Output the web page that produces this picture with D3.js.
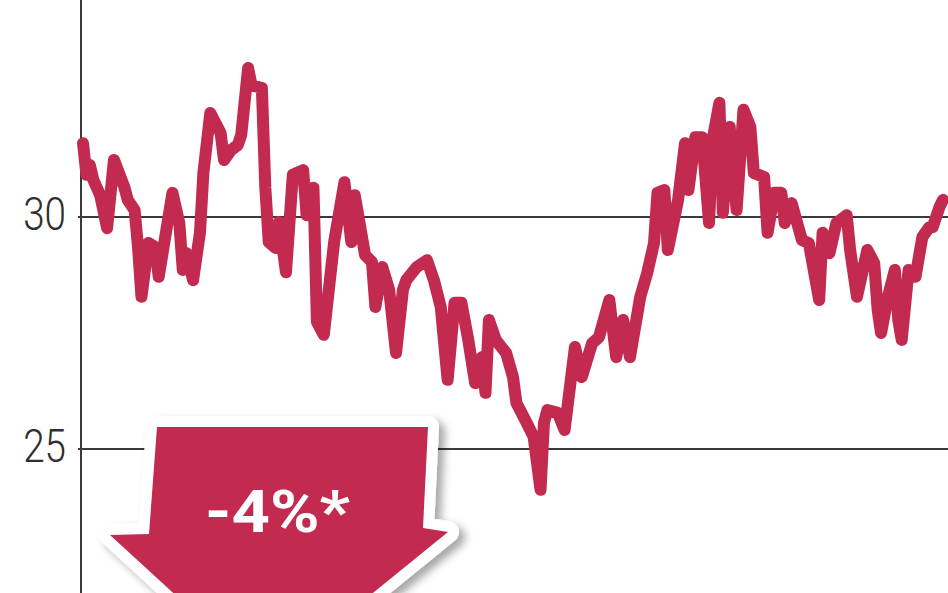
<!DOCTYPE html>
<html>
<head>
<meta charset="utf-8">
<script src="https://cdn.jsdelivr.net/npm/d3@7/dist/d3.min.js"></script>
<style>
  html, body { margin: 0; padding: 0; background: #fff; overflow: hidden; }
</style>
</head>
<body>
<div id="chart"></div>
<script>
// trading session index (roughly one year) and closing price
const sessions = [0,1,2,3,5,7,9,12,13,15,16,17,19,21,22,26,28,29,30,32,34,35,37,40,41,43,45,46,48,49,
  52,53,54,56,57,59,61,64,65,67,68,70,73,76,78,79,82,84,85,87,89,91,93,94,97,100,102,104,106,108,
  110,112,114,116,117,118,120,123,125,126,129,131,133,134,135,138,140,143,145,148,150,153,155,157,159,162,164,166,167,169,
  170,173,175,176,178,180,182,183,185,186,188,190,192,194,195,198,199,201,203,204,206,209,211,214,215,217,219,222,223,225,
  228,230,231,232,234,236,237,238,240,242,244,246,247,249,250];
const prices = [31.59,30.91,31.12,30.80,30.47,29.76,31.23,30.65,30.37,30.15,
  29.35,28.28,29.44,29.35,28.71,30.52,29.87,28.86,29.22,28.64,
  29.66,30.95,32.24,31.81,31.23,31.44,31.55,31.77,33.21,32.84,
  32.78,30.63,29.46,29.33,29.89,28.81,30.91,31.01,30.04,30.63,
  27.74,27.46,29.46,30.75,29.46,30.47,29.18,29.03,28.06,28.92,
  28.43,27.07,28.43,28.64,28.92,29.07,28.64,28.06,26.49,28.15,
  28.15,27.35,26.42,26.98,26.21,27.78,27.35,27.07,26.55,25.99,
  25.56,25.26,24.12,25.56,25.84,25.78,25.41,27.20,26.55,27.28,
  27.41,28.21,26.98,27.78,26.98,28.28,28.79,29.44,30.52,30.58,
  29.29,30.37,31.59,30.58,31.72,31.72,29.87,31.66,32.46,30.09,
  31.94,30.15,32.31,31.94,30.95,30.86,29.66,30.52,30.52,29.87,
  30.30,29.50,29.44,28.21,29.66,29.22,29.87,30.04,29.29,28.28,
  29.29,29.01,28.00,27.50,28.28,28.86,27.78,27.35,28.86,28.71,
  29.57,29.78,29.78,30.22,30.37];
const yTicks = [25, 30, 35];
const changeLabel = '-4%*';

const width = 948, height = 593;
const lineColor = '#c22a50';

const svg = d3.select('#chart').append('svg')
    .attr('width', width)
    .attr('height', height)
    .style('display', 'block');

const data = sessions.map((s, i) => ({ s, v: prices[i] }));

// scales
const x = d3.scaleLinear().domain([0, 250]).range([83, 943]);
const y = d3.scaleLinear().domain([25, 30]).range([449, 217]);
const axisX = 81;

// gridlines
svg.append('g')
    .selectAll('line')
    .data(yTicks)
    .join('line')
    .attr('x1', axisX - 3).attr('x2', width)
    .attr('y1', d => y(d)).attr('y2', d => y(d))
    .attr('stroke', '#3a3a3a')
    .attr('stroke-width', 2);

// tick labels (35 sits at the top edge, cut off like the original)
svg.append('g')
    .selectAll('text')
    .data(yTicks)
    .join('text')
    .attr('transform', d => `translate(66,${y(d) + 13}) scale(0.84,1)`)
    .attr('text-anchor', 'end')
    .attr('font-family', 'Roboto, "DejaVu Sans", sans-serif')
    .attr('font-weight', 300)
    .attr('font-size', 46)
    .attr('fill', '#2e2e2e')
    .text(d => d);

// vertical axis
svg.append('line')
    .attr('x1', axisX).attr('x2', axisX)
    .attr('y1', 0).attr('y2', height)
    .attr('stroke', '#3a3a3a')
    .attr('stroke-width', 2);

// price line
const line = d3.line()
    .x(d => x(d.s))
    .y(d => y(d.v));

svg.append('path')
    .datum(data)
    .attr('d', line)
    .attr('fill', 'none')
    .attr('stroke', lineColor)
    .attr('stroke-width', 12)
    .attr('stroke-linejoin', 'round')
    .attr('stroke-linecap', 'round');

// arrow annotation
const defs = svg.append('defs');
const f = defs.append('filter').attr('id', 'shadow')
    .attr('x', '-20%').attr('y', '-20%').attr('width', '140%').attr('height', '140%');
f.append('feDropShadow')
    .attr('dx', 6).attr('dy', 5)
    .attr('stdDeviation', 4)
    .attr('flood-color', '#000')
    .attr('flood-opacity', 0.35);

const arrowPts = [[157, 427], [428, 427], [423, 528], [448, 532], [267, 679], [110, 535], [149, 534]];
const arrowG = svg.append('g').attr('filter', 'url(#shadow)');
arrowG.append('polygon')
    .attr('points', arrowPts.map(p => p.join(',')).join(' '))
    .attr('fill', lineColor)
    .attr('stroke', '#fff')
    .attr('stroke-width', 22)
    .attr('stroke-linejoin', 'round')
    .attr('paint-order', 'stroke');

svg.append('text')
    .attr('x', 205)
    .attr('y', 532)
    .attr('font-family', 'Roboto, "DejaVu Sans", sans-serif')
    .attr('font-weight', 700)
    .attr('font-size', 59)
    .attr('textLength', 145)
    .attr('lengthAdjust', 'spacingAndGlyphs')
    .attr('fill', '#fff')
    .text(changeLabel);
</script>
</body>
</html>
